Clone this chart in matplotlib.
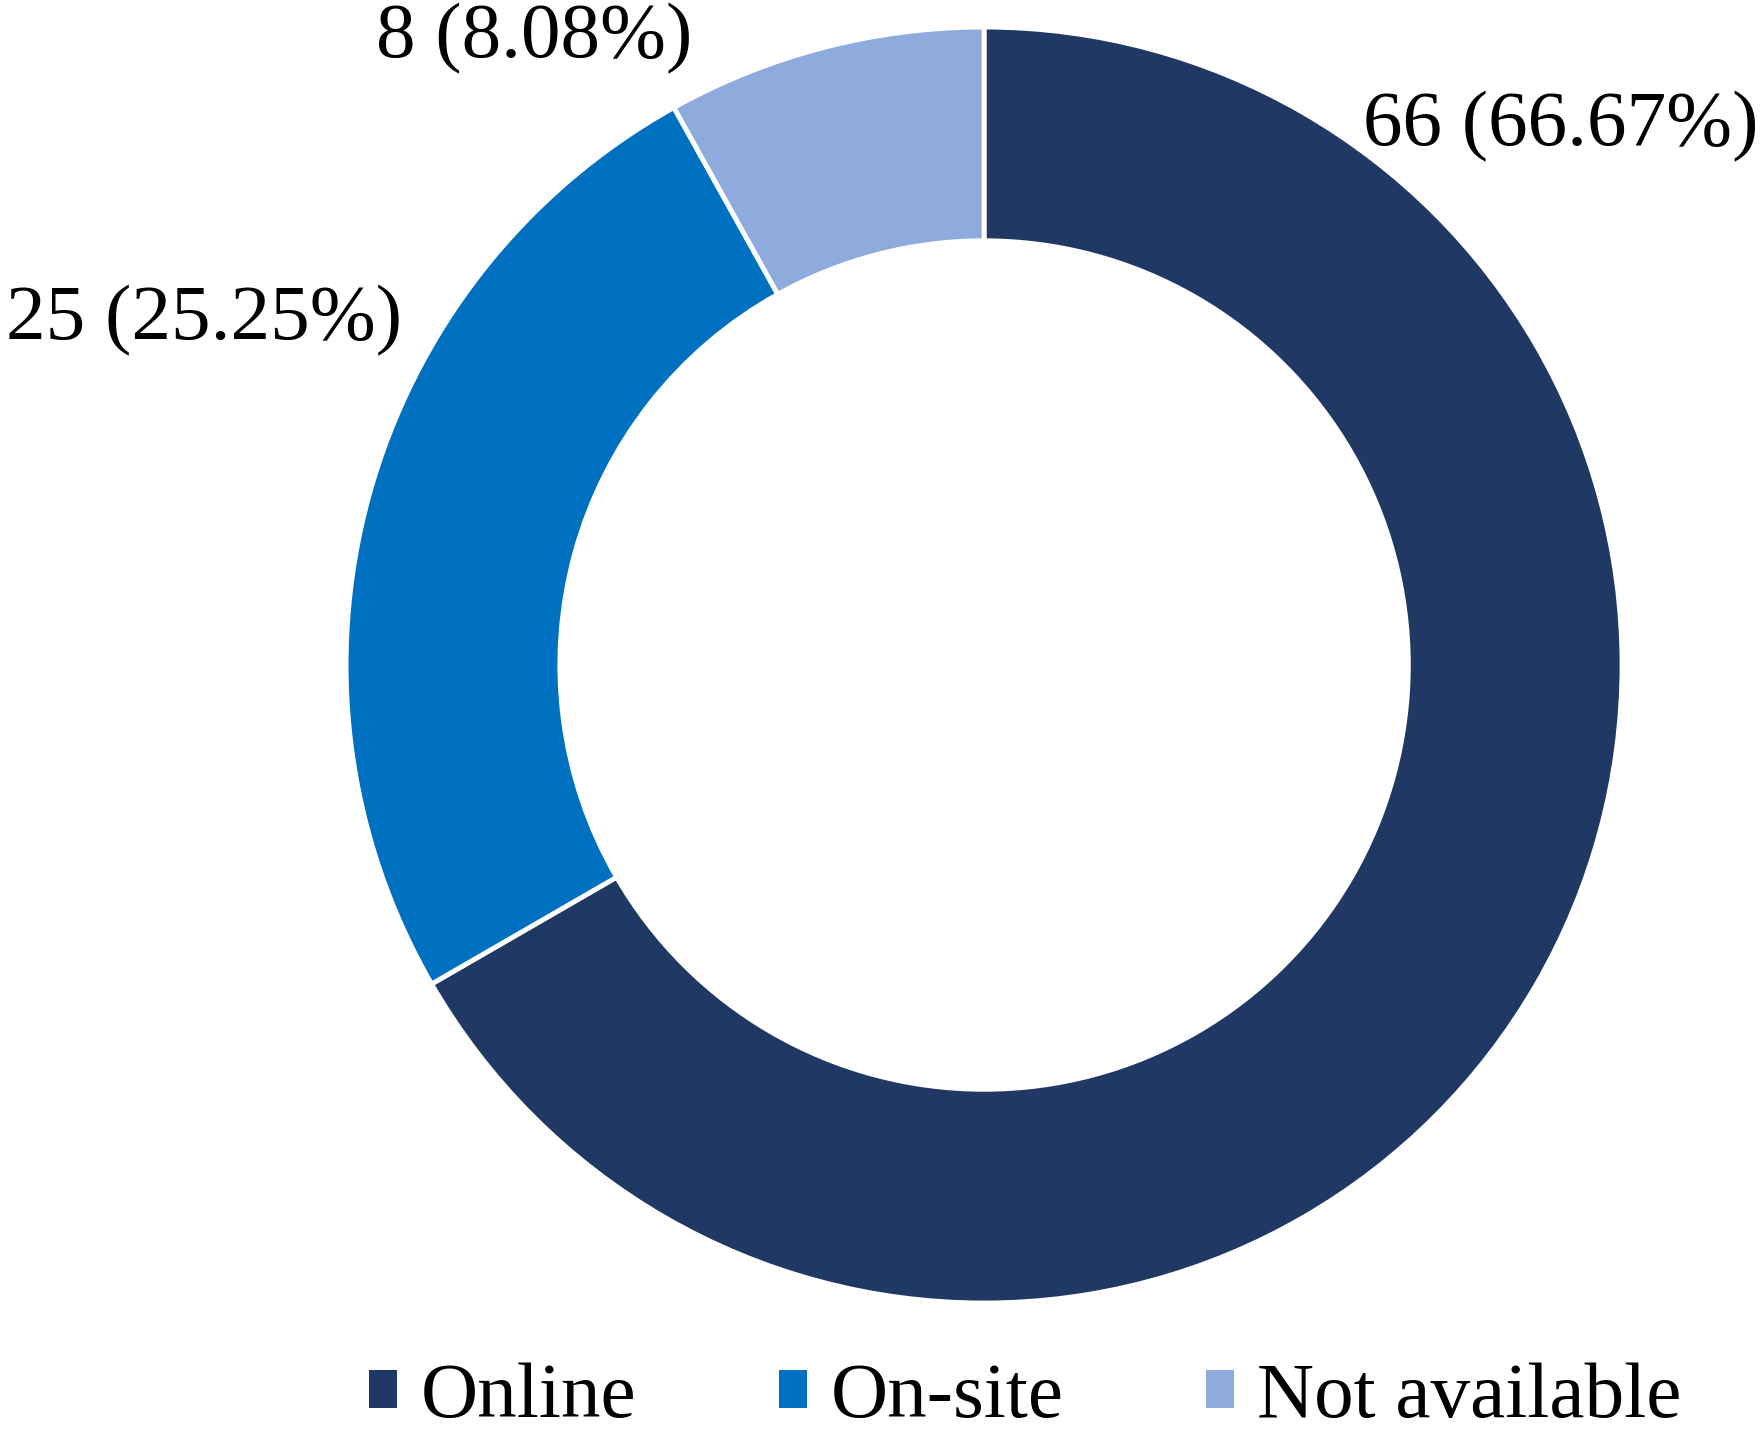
import matplotlib.pyplot as plt
from matplotlib.patches import Patch

# Data
categories = ['Online', 'On-site', 'Not available']
counts = [66, 25, 8]
percents = [66.67, 25.25, 8.08]
colors = ['#203864', '#0070C0', '#8FAADC']

plt.rcParams['font.family'] = ['Liberation Serif', 'DejaVu Serif']

fig = plt.figure(figsize=(17.62, 14.39), dpi=100)
ax = fig.add_axes([0.1964, 0.0945, 0.7242, 0.8867])

ax.pie(counts, colors=colors, startangle=90, counterclock=False, radius=1,
       wedgeprops=dict(width=0.335, edgecolor='white', linewidth=3.5))
ax.set_xlim(-1, 1)
ax.set_ylim(-1, 1)
ax.set_aspect('equal')
ax.axis('off')

# Value labels
label_pos = [(0.7736, 0.9124), (0.0034, 0.7776), (0.2134, 0.9729)]
for (x, y), c, p in zip(label_pos, counts, percents):
    fig.text(x, y, f'{c} ({p:.2f}%)', fontsize=57, ha='left', va='center')

# Legend
handles = [Patch(facecolor=col, edgecolor='none') for col in colors]
fig.legend(handles, categories, loc='center', bbox_to_anchor=(0.582, 0.028),
           ncol=3, frameon=False, fontsize=57, handlelength=0.35, handleheight=0.35,
           handletextpad=0.3, columnspacing=1.8)

fig.savefig('out.png', dpi=100)
